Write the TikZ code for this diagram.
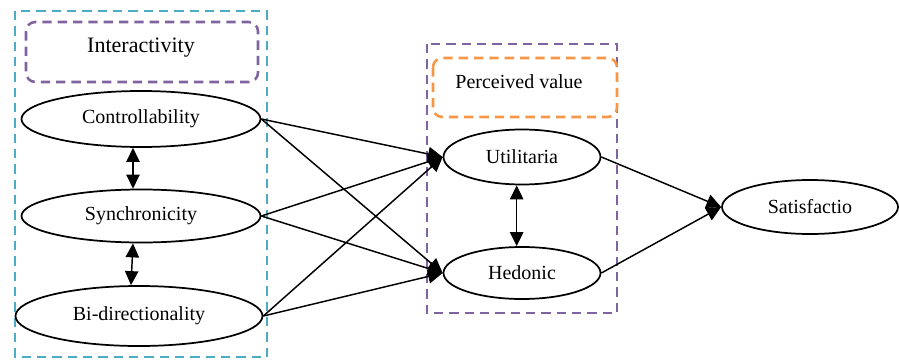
\documentclass[tikz,border=0pt]{standalone}
\usepackage{fontspec}
\setmainfont{Liberation Serif}
\usetikzlibrary{shapes.geometric,arrows.meta}
\definecolor{grpcyan}{HTML}{4BACC6}
\definecolor{grppurple}{HTML}{8064A2}
\definecolor{grporange}{HTML}{F79646}
\tikzset{
  construct/.style={draw=black, line width=1.3pt, ellipse, inner sep=0pt,
    font=\fontsize{15}{18}\selectfont},
  groupbox/.style={line width=1.9pt, dash pattern=on 7pt off 4.5pt},
  titlebox/.style={groupbox, rounded corners=7pt},
  path arrow/.style={line width=1.1pt, -{Triangle[length=11pt,width=10.5pt]}},
  corr arrow/.style={line width=1.1pt, {Triangle[length=10.5pt,width=10pt]}-{Triangle[length=10.5pt,width=10pt]}},
}
\begin{document}
\begin{tikzpicture}[x=0.75pt, y=-0.75pt]
\useasboundingbox (0,0) rectangle (899,360);

% group frames
\draw[groupbox, draw=grpcyan] (15,11) rectangle (267,357);
\draw[titlebox, draw=grppurple] (26,22) rectangle (258,82);
\node[font=\fontsize{16.5}{19}\selectfont] (inter) at (141,48) {Interactivity};

\draw[groupbox, draw=grppurple] (427,44) rectangle (617,313);
\draw[titlebox, draw=grporange] (433,58) rectangle (617,117);
\node[font=\fontsize{15}{18}\selectfont] (pv) at (519,82) {Perceived value};

% constructs
\node[construct, minimum width=179.25pt, minimum height=42pt] (ctrl) at (141,119) {Controllability};
\node[construct, minimum width=179.25pt, minimum height=39.75pt] (sync) at (141,216) {Synchronicity};
\node[construct, minimum width=185.25pt, minimum height=45pt] (bidir) at (139,316) {Bi-directionality};
\node[construct, minimum width=117.75pt, minimum height=41.25pt] (util) at (522,157) {Utilitaria};
\node[construct, minimum width=117.75pt, minimum height=39pt] (hed) at (522,273) {Hedonic};
\node[construct, minimum width=132pt, minimum height=40.5pt] (sat) at (810,207) {Satisfactio};

% correlations
\draw[corr arrow] ([xshift=-6pt]ctrl.south) -- ([xshift=-6pt]sync.north);
\draw[corr arrow] ([xshift=-6pt]sync.south) -- ([xshift=-6pt]bidir.north);
\draw[corr arrow] ([xshift=-4pt]util.south) -- ([xshift=-4pt]hed.north);

% structural paths
\foreach \s in {ctrl,sync,bidir}{
  \draw[path arrow] (\s.east) -- (util.west);
  \draw[path arrow] (\s.east) -- (hed.west);
}
\draw[path arrow] (util.east) -- (sat.west);
\draw[path arrow] (hed.east) -- (sat.west);
\end{tikzpicture}
\end{document}
